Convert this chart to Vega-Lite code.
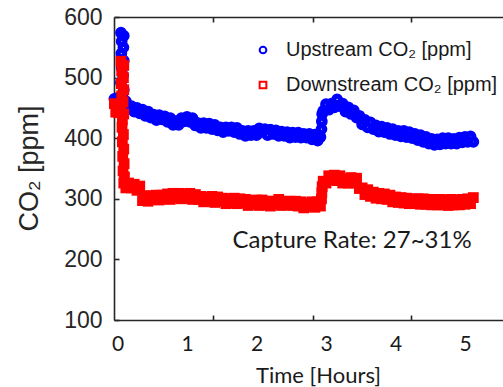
{
  "$schema": "https://vega.github.io/schema/vega-lite/v6.json",
  "width": 389,
  "height": 303,
  "autosize": "none",
  "padding": {"left": 114, "top": 17, "right": 0, "bottom": 67},
  "background": "white",
  "config": {
    "view": {"stroke": null},
    "axis": {"grid": false, "domainColor": "#262626", "tickColor": "#262626", "domainWidth": 1.6, "tickWidth": 1.6}
  },
  "datasets": {
    "co2": [
      {"t": -0.045, "u": 465, "d": 457},
      {"t": -0.025, "u": 462, "d": 443},
      {"t": -0.005, "u": 466, "d": 456},
      {"t": 0.015, "u": 463, "d": 442},
      {"t": 0.05, "u": 574, "d": 527},
      {"t": 0.09, "u": 569, "d": 520},
      {"t": 0.06, "u": 560, "d": 511},
      {"t": 0.085, "u": 550, "d": 500},
      {"t": 0.055, "u": 540, "d": 490},
      {"t": 0.09, "u": 528, "d": 480},
      {"t": 0.06, "u": 516, "d": 470},
      {"t": 0.08, "u": 504, "d": 460},
      {"t": 0.05, "u": 492, "d": 450},
      {"t": 0.09, "u": 480, "d": 440},
      {"t": 0.07, "u": 468, "d": 430},
      {"t": 0.065, "d": 418},
      {"t": 0.085, "d": 406},
      {"t": 0.07, "d": 394},
      {"t": 0.09, "d": 382},
      {"t": 0.075, "d": 370},
      {"t": 0.095, "d": 358},
      {"t": 0.08, "d": 346},
      {"t": 0.1, "d": 336},
      {"t": 0.09, "d": 326},
      {"t": 0.12, "u": 461, "d": 318},
      {"t": 0.16, "u": 450, "d": 326},
      {"t": 0.2, "u": 453, "d": 318},
      {"t": 0.24, "u": 444, "d": 324},
      {"t": 0.28, "u": 450, "d": 314},
      {"t": 0.32, "u": 441, "d": 321},
      {"t": 0.36, "u": 447, "d": 297},
      {"t": 0.4, "u": 437, "d": 305},
      {"t": 0.44, "u": 444, "d": 296},
      {"t": 0.48, "u": 434, "d": 305},
      {"t": 0.52, "u": 439, "d": 299},
      {"t": 0.56, "u": 430, "d": 306},
      {"t": 0.6, "u": 438, "d": 298},
      {"t": 0.64, "u": 431, "d": 306},
      {"t": 0.68, "u": 436, "d": 300},
      {"t": 0.72, "u": 427, "d": 308},
      {"t": 0.76, "u": 433, "d": 299},
      {"t": 0.8, "u": 422, "d": 309},
      {"t": 0.84, "u": 428, "d": 302},
      {"t": 0.88, "u": 422, "d": 309},
      {"t": 0.92, "u": 433, "d": 300},
      {"t": 0.96, "u": 428, "d": 308},
      {"t": 1.0, "u": 435, "d": 301},
      {"t": 1.04, "u": 427, "d": 309},
      {"t": 1.08, "u": 433, "d": 299},
      {"t": 1.12, "u": 421, "d": 307},
      {"t": 1.16, "u": 425, "d": 299},
      {"t": 1.2, "u": 417, "d": 304},
      {"t": 1.24, "u": 425, "d": 295},
      {"t": 1.28, "u": 417, "d": 302},
      {"t": 1.32, "u": 424, "d": 296},
      {"t": 1.36, "u": 415, "d": 304},
      {"t": 1.4, "u": 422, "d": 294},
      {"t": 1.44, "u": 413, "d": 303},
      {"t": 1.48, "u": 418, "d": 296},
      {"t": 1.52, "u": 410, "d": 301},
      {"t": 1.56, "u": 418, "d": 292},
      {"t": 1.6, "u": 412, "d": 300},
      {"t": 1.64, "u": 418, "d": 293},
      {"t": 1.68, "u": 410, "d": 301},
      {"t": 1.72, "u": 417, "d": 292},
      {"t": 1.76, "u": 407, "d": 300},
      {"t": 1.8, "u": 412, "d": 293},
      {"t": 1.84, "u": 404, "d": 299},
      {"t": 1.88, "u": 412, "d": 289},
      {"t": 1.92, "u": 405, "d": 297},
      {"t": 1.96, "u": 412, "d": 291},
      {"t": 2.0, "u": 405, "d": 298},
      {"t": 2.04, "u": 416, "d": 289},
      {"t": 2.08, "u": 412, "d": 298},
      {"t": 2.12, "u": 415, "d": 290},
      {"t": 2.16, "u": 405, "d": 296},
      {"t": 2.2, "u": 414, "d": 288},
      {"t": 2.24, "u": 407, "d": 296},
      {"t": 2.28, "u": 413, "d": 291},
      {"t": 2.32, "u": 404, "d": 299},
      {"t": 2.36, "u": 411, "d": 289},
      {"t": 2.4, "u": 404, "d": 296},
      {"t": 2.44, "u": 410, "d": 290},
      {"t": 2.48, "u": 401, "d": 296},
      {"t": 2.52, "u": 409, "d": 289},
      {"t": 2.56, "u": 402, "d": 296},
      {"t": 2.6, "u": 409, "d": 288},
      {"t": 2.64, "u": 401, "d": 295},
      {"t": 2.68, "u": 407, "d": 285},
      {"t": 2.72, "u": 401, "d": 293},
      {"t": 2.76, "u": 407, "d": 287},
      {"t": 2.8, "u": 398, "d": 295},
      {"t": 2.84, "u": 406, "d": 286},
      {"t": 2.88, "u": 396, "d": 295},
      {"t": 2.92, "u": 402, "d": 288},
      {"t": 2.935, "u": 415, "d": 300},
      {"t": 2.94, "u": 428, "d": 310},
      {"t": 2.945, "u": 440, "d": 320},
      {"t": 2.96, "u": 445, "d": 329},
      {"t": 3.0, "u": 456, "d": 326},
      {"t": 3.04, "u": 447, "d": 338},
      {"t": 3.08, "u": 457, "d": 331},
      {"t": 3.12, "u": 451, "d": 339},
      {"t": 3.16, "u": 464, "d": 330},
      {"t": 3.2, "u": 453, "d": 338},
      {"t": 3.24, "u": 457, "d": 326},
      {"t": 3.28, "u": 444, "d": 333},
      {"t": 3.32, "u": 451, "d": 326},
      {"t": 3.36, "u": 440, "d": 335},
      {"t": 3.4, "u": 446, "d": 326},
      {"t": 3.44, "u": 434, "d": 334},
      {"t": 3.48, "u": 437, "d": 317},
      {"t": 3.52, "u": 423, "d": 318},
      {"t": 3.56, "u": 430, "d": 307},
      {"t": 3.6, "u": 418, "d": 315},
      {"t": 3.64, "u": 426, "d": 304},
      {"t": 3.68, "u": 415, "d": 311},
      {"t": 3.72, "u": 421, "d": 301},
      {"t": 3.76, "u": 411, "d": 309},
      {"t": 3.8, "u": 419, "d": 300},
      {"t": 3.84, "u": 410, "d": 308},
      {"t": 3.88, "u": 417, "d": 299},
      {"t": 3.92, "u": 407, "d": 306},
      {"t": 3.96, "u": 415, "d": 295},
      {"t": 4.0, "u": 405, "d": 303},
      {"t": 4.04, "u": 412, "d": 294},
      {"t": 4.08, "u": 403, "d": 302},
      {"t": 4.12, "u": 412, "d": 293},
      {"t": 4.16, "u": 402, "d": 301},
      {"t": 4.2, "u": 410, "d": 292},
      {"t": 4.24, "u": 400, "d": 300},
      {"t": 4.28, "u": 407, "d": 292},
      {"t": 4.32, "u": 397, "d": 300},
      {"t": 4.36, "u": 405, "d": 291},
      {"t": 4.4, "u": 394, "d": 300},
      {"t": 4.44, "u": 402, "d": 291},
      {"t": 4.48, "u": 391, "d": 299},
      {"t": 4.52, "u": 399, "d": 290},
      {"t": 4.56, "u": 389, "d": 299},
      {"t": 4.6, "u": 398, "d": 290},
      {"t": 4.64, "u": 390, "d": 299},
      {"t": 4.68, "u": 400, "d": 290},
      {"t": 4.72, "u": 391, "d": 298},
      {"t": 4.76, "u": 400, "d": 289},
      {"t": 4.8, "u": 391, "d": 299},
      {"t": 4.84, "u": 399, "d": 290},
      {"t": 4.88, "u": 391, "d": 298},
      {"t": 4.92, "u": 401, "d": 290},
      {"t": 4.96, "u": 393, "d": 299},
      {"t": 5.0, "u": 402, "d": 291},
      {"t": 5.04, "u": 394, "d": 300},
      {"t": 5.08, "u": 403, "d": 292},
      {"t": 5.12, "u": 394, "d": 302}
    ]
  },
  "resolve": {"axis": {"x": "independent"}},
  "layer": [
    {
      "data": {"name": "co2"},
      "transform": [
        {"fold": ["u", "d"], "as": ["k", "v"]},
        {"filter": "isValid(datum.v) && datum.k == 'u'"}
      ],
      "mark": {"type": "point", "filled": false, "size": 28, "strokeWidth": 6.5, "opacity": 1},
      "encoding": {
        "x": {
          "field": "t", "type": "quantitative",
          "scale": {"domain": [-0.0504, 5.547], "nice": false, "zero": false},
          "axis": {
            "orient": "bottom",
            "values": [0, 1, 2, 3, 4, 5, 1.381, 2.806, 4.23],
            "labelExpr": "datum.value % 1 == 0 ? format(datum.value, 'd') : ''",
            "tickOpacity": {"condition": {"test": "datum.value % 1 == 0", "value": 0}, "value": 1},
            "tickSize": -5,
            "labelFont": "Lato", "labelFontSize": 21, "labelColor": "#1a1a1a",
            "labelPadding": 18, "labelFlush": false, "labelOverlap": false,
            "title": "Time [Hours]", "titleFont": "Lato", "titleFontSize": 22,
            "titleFontWeight": "normal", "titleColor": "#1a1a1a",
            "titleX": 204, "titleY": 62, "titleBaseline": "alphabetic", "titleAlign": "center"
          }
        },
        "y": {
          "field": "v", "type": "quantitative",
          "scale": {"domain": [100, 600], "nice": false, "zero": false},
          "axis": {
            "values": [100, 200, 300, 400, 500, 600],
            "tickSize": -5,
            "labelFont": "Liberation Sans", "labelFontSize": 23, "labelColor": "#262626",
            "labelPadding": 17, "labelFlush": false, "labelOverlap": false,
            "title": "CO₂ [ppm]", "titleFont": "Liberation Sans", "titleFontSize": 27,
            "titleFontWeight": "normal", "titleColor": "#262626",
            "titleX": -77, "titleY": 151, "titleAngle": -90, "titleAlign": "center", "titleBaseline": "alphabetic"
          }
        },
        "color": {
          "field": "k", "type": "nominal",
          "scale": {"domain": ["u", "d"], "range": ["#0000ff", "#ff0000"]},
          "legend": {
            "orient": "none", "legendX": 139, "legendY": 23, "title": null, "padding": 0,
            "labelExpr": "datum.value == 'u' ? 'Upstream CO₂ [ppm]' : 'Downstream CO₂ [ppm]'",
            "labelFont": "Liberation Sans", "labelFontSize": 20, "labelColor": "#1a1a1a", "labelLimit": 0,
            "symbolSize": 45, "symbolStrokeWidth": 2, "rowPadding": 15, "labelOffset": 13
          }
        },
        "shape": {
          "field": "k", "type": "nominal",
          "scale": {"domain": ["u", "d"], "range": ["circle", "square"]}
        }
      }
    },
    {
      "data": {"name": "co2"},
      "transform": [
        {"fold": ["u", "d"], "as": ["k", "v"]},
        {"filter": "isValid(datum.v) && datum.k == 'd'"}
      ],
      "mark": {"type": "point", "filled": false, "size": 28, "strokeWidth": 5.5, "opacity": 1},
      "encoding": {
        "x": {"field": "t", "type": "quantitative", "axis": null},
        "y": {"field": "v", "type": "quantitative"},
        "color": {"field": "k", "type": "nominal"},
        "shape": {"field": "k", "type": "nominal"}
      }
    },
    {
      "data": {"values": [{}]},
      "mark": {"type": "text", "align": "left", "baseline": "alphabetic", "font": "Lato", "fontSize": 24, "color": "#1a1a1a"},
      "encoding": {
        "x": {
          "datum": 1.655, "type": "quantitative",
          "axis": {"orient": "top", "values": [1.381, 2.806, 4.23], "labels": false, "tickSize": -5, "title": null}
        },
        "y": {"datum": 219, "type": "quantitative"},
        "text": {"value": "Capture Rate: 27~31%"}
      }
    }
  ]
}
